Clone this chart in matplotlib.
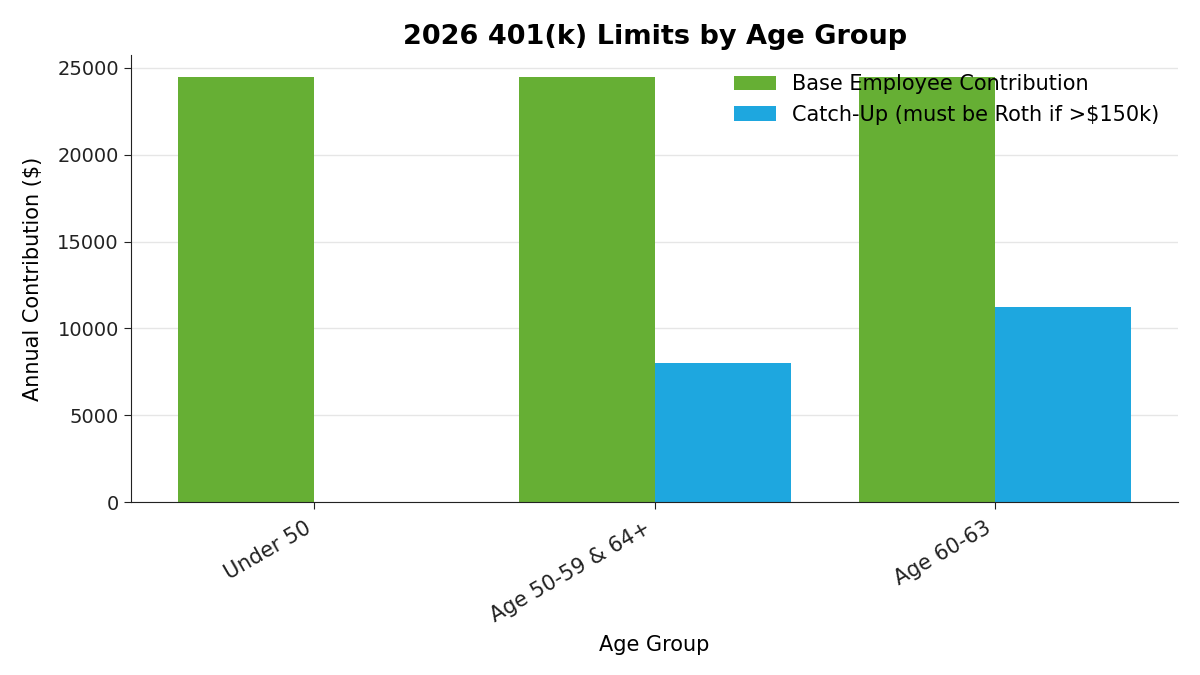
import numpy as np
import matplotlib.pyplot as plt

# 2026 401(k) limits
groups = ['Under 50', 'Age 50-59 & 64+', 'Age 60-63']
base_contrib = [24500, 24500, 24500]
catch_up = [0, 8000, 11250]

x = np.arange(len(groups))
width = 0.4

fig, ax = plt.subplots(figsize=(12, 6.75), dpi=100)
fig.subplots_adjust(left=0.109, right=0.982, top=0.918, bottom=0.256)

ax.bar(x - width / 2, base_contrib, width, label='Base Employee Contribution', color='#66AF34')
ax.bar(x + width / 2, catch_up, width, label='Catch-Up (must be Roth if >$150k)', color='#1EA7DF')

ax.set_title('2026 401(k) Limits by Age Group', fontsize=19.5, fontweight='bold', pad=8)
ax.set_xlabel('Age Group', fontsize=15, labelpad=6)
ax.set_ylabel('Annual Contribution ($)', fontsize=15, labelpad=10)
ax.set_xticks(x)
ax.set_xticklabels(groups, rotation=30, ha='right', fontsize=15)
ax.tick_params(axis='x', length=5, pad=6.5)
ax.tick_params(axis='y', labelsize=14, length=5)
ax.tick_params(colors='#222222')

ax.grid(axis='y', color='#e6e6e6', linewidth=1)
ax.set_axisbelow(True)
ax.spines['top'].set_visible(False)
ax.spines['right'].set_visible(False)
for s in ('left', 'bottom'):
    ax.spines[s].set_color('#222222')

ax.legend(frameon=False, fontsize=15, loc='upper right')

plt.savefig('out.png')
